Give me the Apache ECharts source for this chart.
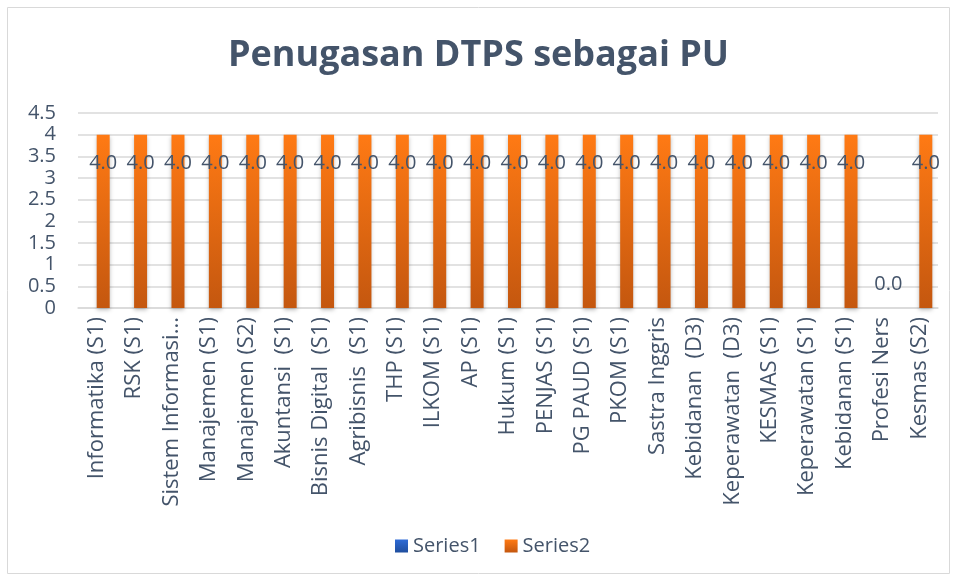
<!DOCTYPE html>
<html>
<head>
<meta charset="utf-8">
<script src="https://cdn.jsdelivr.net/npm/echarts@6/dist/echarts.min.js"></script>
<style>
  html, body { margin: 0; padding: 0; background: #fff; }
  #main { width: 957px; height: 580px; }
</style>
</head>
<body>
<div id="main"></div>
<script>
// data
var categories = [
    "Informatika (S1)", "RSK (S1)", "Sistem Informasi...", "Manajemen (S1)", "Manajemen (S2)",
    "Akuntansi  (S1)", "Bisnis Digital  (S1)", "Agribisnis  (S1)", "THP (S1)", "ILKOM (S1)",
    "AP (S1)", "Hukum (S1)", "PENJAS (S1)", "PG PAUD (S1)", "PKOM (S1)", "Sastra Inggris",
    "Kebidanan  (D3)", "Keperawatan  (D3)", "KESMAS (S1)", "Keperawatan (S1)", "Kebidanan (S1)",
    "Profesi Ners", "Kesmas (S2)"
];
var series1 = [0, 0, 0, 0, 0, 0, 0, 0, 0, 0, 0, 0, 0, 0, 0, 0, 0, 0, 0, 0, 0, 0, 0];
var series2 = [4, 4, 4, 4, 4, 4, 4, 4, 4, 4, 4, 4, 4, 4, 4, 4, 4, 4, 4, 4, 4, 0, 4];
var yTicks = [0, 0.5, 1, 1.5, 2, 2.5, 3, 3.5, 4, 4.5];

var textColor = "#44546A";
var fontName = "Open Sans";

var mychart = echarts.init(document.getElementById("main"));

var s2data = series2.map(function (v) {
    return {
        value: v,
        label: v > 0 ? { position: "insideTop", distance: 19 } : { position: "top", distance: 14 }
    };
});

var option = {
    animation: false,
    title: {
        text: "Penugasan DTPS sebagai PU",
        left: "center",
        top: 33,
        textStyle: {
            color: textColor,
            fontFamily: fontName,
            fontWeight: "bold",
            fontSize: 36
        }
    },
    graphic: [{
        type: "rect",
        shape: { x: 7.5, y: 7.5, width: 942, height: 566 },
        style: { fill: "none", stroke: "#D9D9D9", lineWidth: 1 },
        silent: true
    }],
    legend: {
        bottom: 19,
        left: 390,
        itemWidth: 13,
        itemHeight: 13,
        itemGap: 24,
        icon: "rect",
        textStyle: { color: textColor, fontFamily: fontName, fontSize: 20 },
        data: ["Series1", "Series2"]
    },
    grid: {
        left: 78,
        right: 19,
        top: 113,
        bottom: 272
    },
    xAxis: {
        type: "category",
        data: categories,
        axisTick: { show: false },
        axisLine: { lineStyle: { color: "#D9D9D9", width: 1.5 } },
        axisLabel: {
            interval: 0,
            rotate: 90,
            margin: 9,
            color: textColor,
            fontFamily: fontName,
            fontSize: 22
        }
    },
    yAxis: {
        type: "value",
        min: 0,
        max: 4.5,
        interval: 0.5,
        axisLine: { show: false },
        axisTick: { show: false },
        splitLine: { lineStyle: { color: "#D9D9D9", width: 1.5 } },
        axisLabel: {
            margin: 22,
            color: textColor,
            fontFamily: fontName,
            fontSize: 20,
            formatter: function (v) {
                return yTicks.indexOf(v) >= 0 ? String(v) : "";
            }
        }
    },
    series: [{
        name: "Series1",
        type: "bar",
        barWidth: 13,
        barGap: "0%",
        data: series1,
        itemStyle: {
            color: new echarts.graphic.LinearGradient(0, 0, 0, 1, [
                { offset: 0, color: "#2E6BD6" },
                { offset: 1, color: "#1F4E9E" }
            ])
        }
    }, {
        name: "Series2",
        type: "bar",
        barWidth: 13,
        data: s2data,
        itemStyle: {
            color: new echarts.graphic.LinearGradient(0, 0, 0, 1, [
                { offset: 0, color: "#FF7A14" },
                { offset: 1, color: "#C4570F" }
            ]),
            shadowColor: "rgba(0,0,0,0.25)",
            shadowBlur: 4,
            shadowOffsetY: 2
        },
        label: {
            show: true,
            color: textColor,
            fontFamily: fontName,
            fontSize: 20,
            formatter: function (p) { return p.value.toFixed(1); }
        }
    }]
};

mychart.setOption(option);
</script>
</body>
</html>
